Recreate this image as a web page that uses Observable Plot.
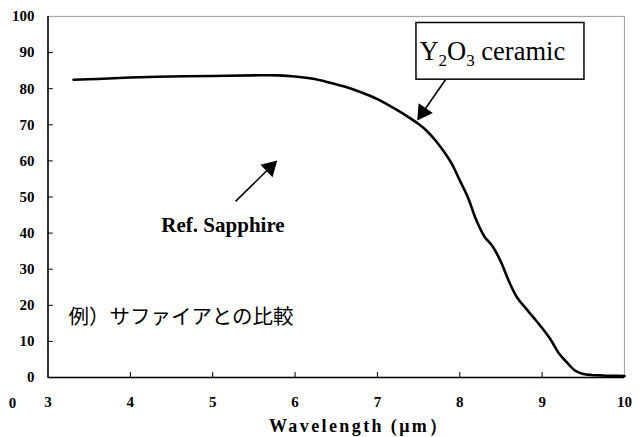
<!DOCTYPE html>
<html>
<head>
<meta charset="utf-8">
<script src="https://cdn.jsdelivr.net/npm/d3@7"></script>
<script src="https://cdn.jsdelivr.net/npm/@observablehq/plot@0.6"></script>
<style>
  body { margin: 0; background: #fff; }
</style>
</head>
<body>
<div id="chart"></div>
<script>
// Transmittance curve of Y2O3 ceramic
const wavelength = [3.31, 3.6, 4.0, 4.5, 5.0, 5.5, 5.8, 6.0, 6.2, 6.4, 6.6, 6.8, 7.0, 7.2, 7.4, 7.5, 7.6, 7.7, 7.8, 7.9, 8.0, 8.1, 8.2, 8.3, 8.4, 8.5, 8.6, 8.7, 8.8, 8.9, 9.0, 9.1, 9.2, 9.3, 9.4, 9.5, 9.6, 9.7, 9.8, 9.9, 10.0];
const transmittance = [82.5, 82.7, 83.1, 83.4, 83.5, 83.7, 83.7, 83.4, 82.8, 81.8, 80.6, 79.0, 77.1, 74.6, 71.8, 70.2, 68.3, 65.8, 62.8, 59.3, 54.6, 49.8, 43.6, 39.0, 36.3, 32.0, 26.5, 22.0, 19.2, 16.5, 13.7, 10.6, 6.8, 4.2, 1.9, 1.0, 0.7, 0.6, 0.5, 0.5, 0.4];

// Tick labels
const xTicks = [3, 4, 5, 6, 7, 8, 9, 10];
const yTicks = [0, 10, 20, 30, 40, 50, 60, 70, 80, 90, 100];

// Annotations (data coordinates)
const labelTexts = ["Ref. Sapphire", "例）サファイアとの比較"];
const labelX = [5.125, 3.25];
const labelY = [42.3, 16.6];
const arrowTailX = [7.826, 5.277];
const arrowTailY = [82.5, 48.8];
const arrowTipX = [7.483, 5.783];
const arrowTipY = [71.2, 60.1];

const W = 638, H = 437;
const mL = 47.5, mR = 14, mT = 16, mB = 60;
const kx = (W - mL - mR) / 7, ky = (H - mT - mB) / 100;

const data = wavelength.map((w, i) => ({w, t: transmittance[i]}));
const labels = labelTexts.map((s, i) => ({s, x: labelX[i], y: labelY[i]}));
const headLen = 15;
const arrows = arrowTailX.map((_, i) => {
  const dxp = (arrowTipX[i] - arrowTailX[i]) * kx;
  const dyp = -(arrowTipY[i] - arrowTailY[i]) * ky;
  const L = Math.hypot(dxp, dyp);
  const ux = dxp / L, uy = dyp / L;
  const back = headLen * 2 / 3;
  return {
    x1: arrowTailX[i], y1: arrowTailY[i],
    cx: arrowTipX[i] - ux * back / kx,
    cy: arrowTipY[i] + uy * back / ky,
    rot: Math.atan2(ux, -uy) * 180 / Math.PI
  };
});

const serif = "Liberation Serif";

const plot = Plot.plot({
  width: W,
  height: H,
  marginLeft: mL,
  marginRight: mR,
  marginTop: mT,
  marginBottom: mB,
  style: {background: "#fff", color: "#000"},
  x: {domain: [3, 10]},
  y: {domain: [0, 100]},
  marks: [
    Plot.frame({stroke: "#a6a6a6", strokeWidth: 1.2}),
    Plot.ruleX([3], {stroke: "#000", strokeWidth: 1.5}),
    Plot.ruleY([0], {stroke: "#000", strokeWidth: 1.5}),
    Plot.ruleY(yTicks.filter(d => d > 0 && d < 100), {x1: 3, x2: 3.065, stroke: "#000"}),
    Plot.ruleX(xTicks.filter(d => d > 3 && d < 10), {y1: 0, y2: 1.4, stroke: "#000"}),
    Plot.axisY({ticks: yTicks, tickSize: 0, tickPadding: 13.5, tickFormat: d3.format("d"), fontSize: 15, fontWeight: "bold", fontFamily: serif, label: null}),
    Plot.axisX({ticks: xTicks, tickSize: 0, tickPadding: 19, tickFormat: d3.format("d"), fontSize: 15, fontWeight: "bold", fontFamily: serif, label: null}),
    Plot.text(["0"], {x: 2.57, y: -7.2, fontSize: 15, fontWeight: "bold", fontFamily: serif}),
    Plot.text(["Wavelength (μm）"], {x: 6.78, y: -13.4, fontSize: 18, fontWeight: "bold", fontFamily: serif}),
    Plot.line(data, {x: "w", y: "t", stroke: "#000", strokeWidth: 2.6, curve: "catmull-rom"}),
    Plot.rect([{x1: 7.474, x2: 9.514, y1: 82.5, y2: 98.2}], {x1: "x1", x2: "x2", y1: "y1", y2: "y2", fill: "#fff", stroke: "#000", strokeWidth: 1.5}),
    Plot.text(["Y2O3 ceramic"], {x: 7.51, y: 90.4, textAnchor: "start", fontSize: 26.5, fontFamily: serif}),
    Plot.link(arrows, {x1: "x1", y1: "y1", x2: "cx", y2: "cy", stroke: "#000", strokeWidth: 1.6}),
    Plot.dot(arrows, {x: "cx", y: "cy", symbol: "triangle", r: 6.4, fill: "#000", stroke: "none", rotate: "rot"}),
    Plot.text(labels.slice(0, 1), {x: "x", y: "y", text: "s", fontSize: 21, fontWeight: "bold", fontFamily: serif}),
    Plot.text(labels.slice(1), {x: "x", y: "y", text: "s", textAnchor: "start", fontSize: 20.5, fontFamily: "Noto Sans CJK JP"})
  ]
});

plot.querySelectorAll("text").forEach(t => {
  // Subscripts for the chemical formula
  if (t.textContent === "Y2O3 ceramic") {
    t.textContent = "";
    const parts = [["Y", 0, null], ["2", 6, 17], ["O", -6, null], ["3", 6, 17], [" ceramic", -6, null]];
    parts.forEach(([s, dy, fs]) => {
      const ts = document.createElementNS("http://www.w3.org/2000/svg", "tspan");
      ts.textContent = s;
      if (dy) ts.setAttribute("dy", dy);
      if (fs) ts.setAttribute("font-size", fs);
      t.appendChild(ts);
    });
  }
  if (t.textContent === "Wavelength (μm）") {
    t.setAttribute("letter-spacing", "2.4");
  }
});

document.getElementById("chart").appendChild(plot);
</script>
</body>
</html>
